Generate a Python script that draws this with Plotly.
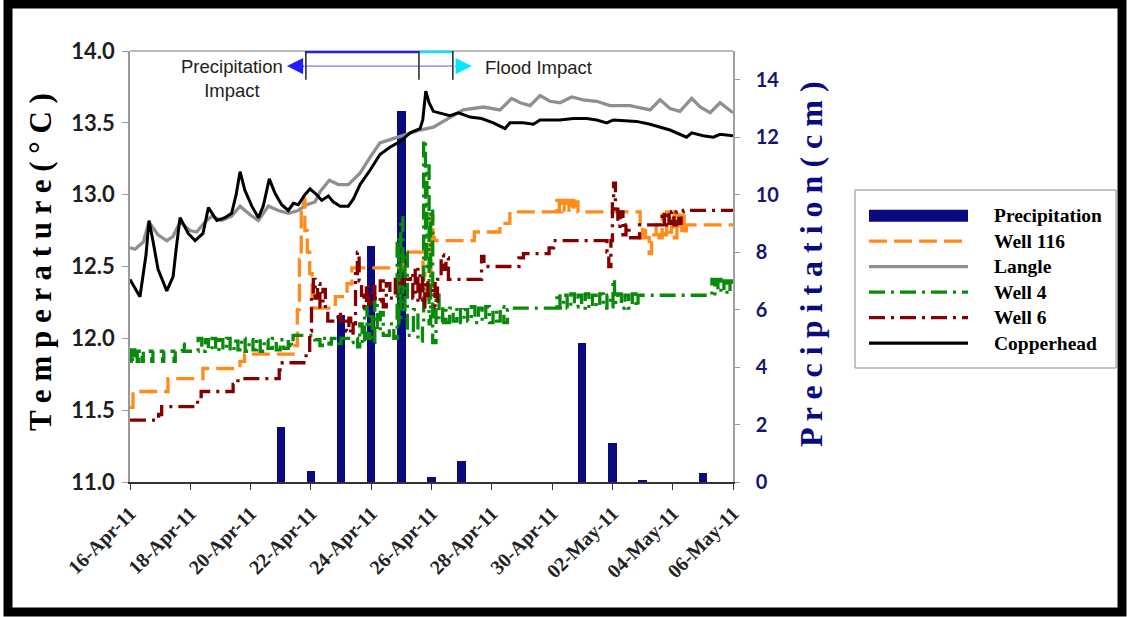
import pandas as pd
import plotly.graph_objects as go

# ---------------------------------------------------------------- data
START = pd.Timestamp("2011-04-16")

precip_date = ["2011-04-21", "2011-04-22", "2011-04-23", "2011-04-24", "2011-04-25",
               "2011-04-26", "2011-04-27", "2011-05-01", "2011-05-02", "2011-05-03",
               "2011-05-05"]
precip_cm = [1.92, 0.38, 5.82, 8.22, 12.9, 0.17, 0.74, 4.83, 1.37, 0.07, 0.33]

# (days since 16-Apr-2011, temperature degC)
copperhead = [
    (0.00, 12.41), (0.33, 12.29), (0.53, 12.58), (0.63, 12.82), (0.76, 12.68), (0.93, 12.48),
    (1.22, 12.33), (1.43, 12.43), (1.53, 12.62), (1.66, 12.84), (1.93, 12.73), (2.16, 12.68),
    (2.42, 12.73), (2.60, 12.91), (2.88, 12.82), (3.15, 12.84), (3.37, 12.87), (3.52, 13.00),
    (3.65, 13.16), (3.81, 13.03), (4.04, 12.92), (4.26, 12.84), (4.42, 12.92), (4.62, 13.11),
    (4.81, 13.01), (5.03, 12.93), (5.25, 12.89), (5.42, 12.94), (5.58, 12.93), (5.80, 13.00),
    (5.97, 13.04), (6.19, 13.00), (6.36, 12.96), (6.58, 12.99), (6.74, 12.95), (6.97, 12.92),
    (7.24, 12.92), (7.41, 12.97), (7.63, 13.07), (7.96, 13.17), (8.29, 13.28), (8.62, 13.33),
    (8.96, 13.37), (9.29, 13.43), (9.62, 13.46), (9.71, 13.52), (9.81, 13.72), (9.92, 13.64),
    (10.06, 13.58), (10.28, 13.57), (10.61, 13.55), (10.89, 13.57), (11.28, 13.54),
    (11.66, 13.53), (12.05, 13.50), (12.44, 13.46), (12.60, 13.50), (13.04, 13.50),
    (13.38, 13.49), (13.60, 13.52), (14.26, 13.52), (14.70, 13.53), (15.15, 13.53),
    (15.48, 13.52), (15.81, 13.50), (16.03, 13.52), (16.80, 13.51), (17.25, 13.49),
    (17.58, 13.47), (17.91, 13.45), (18.46, 13.40), (18.63, 13.43), (19.01, 13.41),
    (19.35, 13.40), (19.57, 13.42), (20.00, 13.41),
]

langle = [
    (0.00, 12.63), (0.17, 12.62), (0.44, 12.67), (0.63, 12.81), (0.93, 12.72), (1.22, 12.68),
    (1.43, 12.71), (1.66, 12.81), (1.99, 12.75), (2.21, 12.74), (2.49, 12.81), (2.71, 12.85),
    (3.04, 12.82), (3.37, 12.85), (3.65, 12.92), (3.98, 12.86), (4.26, 12.82), (4.59, 12.92),
    (4.92, 12.89), (5.25, 12.87), (5.58, 12.89), (5.86, 12.93), (6.14, 12.95), (6.30, 13.02),
    (6.61, 13.10), (6.91, 13.07), (7.24, 13.07), (7.63, 13.15), (7.96, 13.26), (8.29, 13.36),
    (8.73, 13.39), (9.18, 13.42), (9.62, 13.45), (10.06, 13.47), (10.39, 13.51),
    (10.72, 13.55), (11.05, 13.59), (11.72, 13.61), (12.27, 13.59), (12.66, 13.67),
    (12.94, 13.64), (13.27, 13.62), (13.60, 13.69), (13.93, 13.65), (14.26, 13.64),
    (14.65, 13.68), (15.03, 13.66), (15.48, 13.65), (15.92, 13.62), (16.58, 13.62),
    (17.25, 13.59), (17.58, 13.66), (17.91, 13.60), (18.24, 13.58), (18.63, 13.67),
    (18.91, 13.61), (19.24, 13.57), (19.57, 13.64), (20.00, 13.57),
]

well_116 = [
    (0.00, 11.52), (0.10, 11.63), (1.26, 11.72), (2.42, 11.79), (3.65, 11.84), (3.80, 11.89),
    (5.41, 11.95), (5.55, 12.20), (5.62, 12.55), (5.68, 12.90), (5.74, 12.97), (5.80, 12.75),
    (5.88, 12.60), (5.96, 12.45), (6.04, 12.30), (6.12, 12.21), (6.81, 12.29), (7.20, 12.38),
    (7.36, 12.49), (9.05, 12.60), (9.72, 12.45), (9.78, 12.25), (9.90, 12.40), (9.98, 12.85),
    (10.05, 12.70), (10.10, 12.68), (11.42, 12.74), (12.27, 12.80), (12.60, 12.88),
    (14.16, 12.96), (14.24, 12.88), (14.32, 12.96), (14.40, 12.89), (14.48, 12.96),
    (14.56, 12.88), (14.64, 12.96), (14.72, 12.89), (14.80, 12.95), (14.86, 12.88),
    (16.92, 12.70), (17.00, 12.78), (17.10, 12.70), (17.22, 12.59), (17.30, 12.72),
    (17.45, 12.79), (17.55, 12.70), (17.65, 12.86), (17.72, 12.72), (17.80, 12.88),
    (17.88, 12.74), (17.96, 12.88), (18.05, 12.70), (18.14, 12.86), (18.22, 12.74),
    (18.30, 12.88), (18.38, 12.72), (18.45, 12.79), (20.00, 12.79),
]

well_4 = [
    (0.00, 11.84), (0.04, 11.92), (0.08, 11.84), (0.12, 11.92), (0.16, 11.85), (0.20, 11.92),
    (0.24, 11.84), (0.28, 11.91), (0.40, 11.84), (0.44, 11.91), (0.72, 11.84), (0.76, 11.91),
    (1.08, 11.84), (1.12, 11.91), (1.46, 11.84), (1.50, 11.91), (1.73, 11.96), (1.80, 11.91),
    (2.26, 12.00), (2.38, 11.91), (2.50, 11.99), (2.60, 11.92), (2.72, 12.00), (2.84, 11.91),
    (2.95, 11.99), (3.08, 11.92), (3.20, 12.00), (3.32, 11.91), (3.45, 11.98), (3.58, 11.92),
    (3.70, 12.00), (3.82, 11.91), (3.95, 11.99), (4.08, 11.92), (4.20, 12.00), (4.32, 11.91),
    (4.45, 11.99), (4.58, 11.93), (4.72, 12.00), (4.85, 11.92), (4.98, 11.99), (5.10, 11.93),
    (5.25, 11.99), (5.35, 11.95), (5.41, 12.02), (6.13, 11.99), (6.30, 11.95), (6.38, 12.00),
    (6.60, 11.96), (6.68, 12.00), (6.92, 11.94), (7.00, 12.00), (7.25, 11.97), (7.40, 12.00),
    (7.55, 11.94), (7.62, 12.10), (7.70, 11.96), (7.78, 12.22), (7.86, 12.00), (7.95, 12.15),
    (8.04, 11.97), (8.12, 12.28), (8.20, 12.05), (8.30, 12.18), (8.40, 12.02), (8.60, 12.10),
    (8.75, 12.00), (8.86, 12.70), (8.92, 12.10), (8.98, 12.84), (9.05, 12.20), (9.12, 12.60),
    (9.20, 12.02), (9.40, 12.20), (9.55, 11.98), (9.70, 12.10), (9.74, 13.38), (9.80, 12.50),
    (9.85, 13.20), (9.92, 12.10), (9.97, 12.90), (10.04, 11.97), (10.15, 12.30),
    (10.25, 12.11), (10.37, 12.22), (10.48, 12.11), (10.60, 12.21), (10.72, 12.12),
    (10.84, 12.22), (10.96, 12.11), (11.08, 12.20), (11.20, 12.12), (11.32, 12.22),
    (11.44, 12.11), (11.56, 12.21), (11.68, 12.12), (11.80, 12.22), (11.92, 12.11),
    (12.04, 12.20), (12.16, 12.12), (12.28, 12.22), (12.40, 12.11), (12.52, 12.20),
    (12.62, 12.21), (14.16, 12.31), (14.26, 12.21), (14.38, 12.30), (14.50, 12.21),
    (14.62, 12.31), (14.74, 12.22), (14.86, 12.30), (14.98, 12.21), (15.10, 12.31),
    (15.22, 12.21), (15.34, 12.30), (15.46, 12.22), (15.58, 12.31), (15.70, 12.21),
    (15.82, 12.30), (15.94, 12.22), (16.02, 12.41), (16.07, 12.25), (16.18, 12.31),
    (16.30, 12.21), (16.42, 12.30), (16.54, 12.21), (16.66, 12.31), (16.78, 12.22),
    (16.85, 12.30), (19.30, 12.41), (19.40, 12.31), (19.50, 12.41), (19.60, 12.32),
    (19.70, 12.40), (19.80, 12.31), (19.90, 12.40), (20.00, 12.36),
]

well_6 = [
    (0.00, 11.43), (0.95, 11.47), (1.05, 11.525), (2.24, 11.58), (2.36, 11.63), (3.42, 11.68),
    (3.58, 11.72), (4.95, 11.78), (5.05, 11.83), (5.84, 11.90), (5.96, 12.05), (6.02, 12.30),
    (6.08, 12.41), (6.14, 12.28), (6.22, 12.38), (6.30, 12.22), (6.40, 12.34), (6.48, 12.20),
    (6.56, 12.12), (6.90, 12.18), (6.98, 12.12), (7.18, 12.05), (7.26, 12.14), (7.32, 12.02),
    (7.40, 12.10), (7.48, 12.45), (7.54, 12.60), (7.60, 12.40), (7.68, 12.30), (7.76, 12.22),
    (7.84, 12.38), (7.92, 12.24), (8.00, 12.36), (8.12, 12.26), (8.30, 12.40), (8.40, 12.22),
    (8.50, 12.38), (8.62, 12.28), (8.80, 12.41), (8.95, 12.36), (9.05, 12.41), (9.30, 12.45),
    (9.38, 12.28), (9.46, 12.50), (9.55, 12.25), (9.62, 12.45), (9.70, 12.22), (9.78, 12.40),
    (9.88, 12.30), (10.05, 12.38), (10.12, 12.22), (10.20, 12.41), (10.32, 12.58),
    (10.40, 12.48), (10.48, 12.56), (10.56, 12.41), (11.66, 12.57), (11.74, 12.50),
    (12.90, 12.56), (13.05, 12.59), (13.90, 12.63), (14.05, 12.68), (15.82, 12.60),
    (15.88, 12.50), (15.95, 12.68), (16.00, 12.95), (16.04, 13.08), (16.10, 12.90),
    (16.18, 12.78), (16.26, 12.88), (16.35, 12.72), (16.45, 12.79), (16.55, 12.70),
    (16.90, 12.79), (17.65, 12.88), (17.72, 12.79), (17.80, 12.88), (17.88, 12.80),
    (17.96, 12.88), (18.04, 12.79), (18.12, 12.88), (18.20, 12.80), (18.28, 12.88),
    (18.35, 12.89), (20.00, 12.89),
]

# period markers along the top of the plot
impact_start = "2011-04-21 20:00"
flood_peak = "2011-04-25 14:00"
flood_end = "2011-04-26 17:00"

date_ticks_every_days = 2

# ---------------------------------------------------------------- style
W, H = 1127, 617
L, R, T, B = 130, 733, 51, 482

NAVY = "#0b0b80"
ORANGE = "#ff8c1a"
GRAY = "#8f8f8f"
GREEN = "#0a8a0a"
MAROON = "#840000"
BLACK = "#000000"
SERIF = "Liberation Serif, Times New Roman, serif"
SANS = "Liberation Sans, Arial, sans-serif"
TICKFONT = "Lato, Open Sans, sans-serif"


def px(x):
    return (x - L) / (R - L)


def py(y):
    return (B - y) / (B - T)


def times(days):
    return START + pd.to_timedelta(days, unit="D")


def split(pairs):
    d, v = zip(*pairs)
    return times(list(d)), list(v)


fig = go.Figure()

# precipitation bars (right axis, drawn first so the lines sit on top)
fig.add_trace(go.Bar(
    x=pd.to_datetime(precip_date), y=precip_cm, name="Precipitation",
    marker=dict(color=NAVY, line=dict(width=0)),
    width=0.28 * 86400000, yaxis="y", showlegend=False,
))

series = [
    ("Langle", langle, dict(color=GRAY, width=3.3), "linear"),
    ("Well 116", well_116, dict(color=ORANGE, width=3.3, dash="18px,7px"), "hv"),
    ("Well 4", well_4, dict(color=GREEN, width=3.3, dash="16px,6px,3px,6px"), "hv"),
    ("Well 6", well_6, dict(color=MAROON, width=3.3, dash="16px,6px,3px,6px"), "hv"),
    ("Copperhead", copperhead, dict(color=BLACK, width=3.0), "linear"),
]
for name, pairs, line, shape in series:
    xs, ys = split(pairs)
    line = dict(line, shape=shape)
    fig.add_trace(go.Scatter(x=xs, y=ys, name=name, mode="lines", line=line,
                             yaxis="y2", showlegend=False))

shapes = []
annotations = []

# outer frame
shapes.append(dict(type="rect", xref="paper", yref="paper",
                   x0=px(8), x1=px(1122), y0=py(4), y1=py(612),
                   line=dict(color="black", width=9), fillcolor="rgba(0,0,0,0)", layer="above"))
# top border of the plot
shapes.append(dict(type="line", xref="paper", yref="paper", x0=0, x1=1, y0=1, y1=1,
                   line=dict(color="#777777", width=1.2)))

# impact period markers
shapes.append(dict(type="line", xref="x", yref="y2", x0=impact_start, x1=flood_peak,
                   y0=13.995, y1=13.995, line=dict(color="#2020ff", width=3)))
shapes.append(dict(type="line", xref="x", yref="y2", x0=flood_peak, x1=flood_end,
                   y0=13.995, y1=13.995, line=dict(color="#00e8ff", width=3)))
shapes.append(dict(type="line", xref="x", yref="y2", x0=impact_start, x1=flood_end,
                   y0=13.895, y1=13.895, line=dict(color="#5a5aff", width=1)))
for t in (impact_start, flood_peak, flood_end):
    shapes.append(dict(type="line", xref="x", yref="y2", x0=t, x1=t, y0=14.0, y1=13.80,
                       line=dict(color="#222222", width=1.5)))

annotations.append(dict(x=impact_start, y=13.895, xref="x", yref="y2", xshift=-19,
                        ax=19, ay=0, text="", showarrow=True, arrowhead=2,
                        arrowsize=2.5, arrowwidth=1.3, arrowcolor="#2020ff"))
annotations.append(dict(x=flood_end, y=13.895, xref="x", yref="y2", xshift=19,
                        ax=-19, ay=0, text="", showarrow=True, arrowhead=2,
                        arrowsize=2.5, arrowwidth=1.3, arrowcolor="#00e8ff"))
annotations.append(dict(x=px(231.5), y=py(78), xref="paper", yref="paper",
                        text="Precipitation<br>Impact", showarrow=False,
                        xanchor="center", yanchor="middle",
                        font=dict(family=SANS, size=18.5, color="#222222")))
annotations.append(dict(x=px(483), y=py(67), xref="paper", yref="paper",
                        text="Flood Impact", showarrow=False,
                        xanchor="left", yanchor="middle",
                        font=dict(family=SANS, size=18.5, color="#222222")))

# axis titles
annotations.append(dict(x=px(40), y=py(262), xref="paper", yref="paper",
                        text="T e m p e r a t u r e ( ° C )", textangle=-90,
                        showarrow=False, xanchor="center", yanchor="middle",
                        font=dict(family=SERIF, size=31, color="black", weight="bold")))
annotations.append(dict(x=px(811), y=py(264), xref="paper", yref="paper",
                        text="P r e c i p i t a t i o n ( c m )", textangle=-90,
                        showarrow=False, xanchor="center", yanchor="middle",
                        font=dict(family=SERIF, size=32, color=NAVY, weight="bold")))

# legend box
shapes.append(dict(type="rect", xref="paper", yref="paper",
                   x0=px(855), x1=px(1116), y0=py(190), y1=py(368),
                   line=dict(color="#8a8a8a", width=1), fillcolor="white"))
legend_rows = [
    ("Precipitation", "bar", NAVY, None, 3),
    ("Well 116", "line", ORANGE, "18px,7px", 3.3),
    ("Langle", "line", GRAY, None, 3.3),
    ("Well 4", "line", GREEN, "16px,6px,3px,6px", 3.3),
    ("Well 6", "line", MAROON, "16px,6px,3px,6px", 3.3),
    ("Copperhead", "line", BLACK, None, 3.3),
]
for i, (label, kind, color, dash, width) in enumerate(legend_rows):
    yc = 215.7 + i * 25.5
    if kind == "bar":
        shapes.append(dict(type="rect", xref="paper", yref="paper",
                           x0=px(869), x1=px(968), y0=py(yc - 6), y1=py(yc + 6),
                           line=dict(width=0), fillcolor=color))
    else:
        ln = dict(color=color, width=width)
        if dash:
            ln["dash"] = dash
        shapes.append(dict(type="line", xref="paper", yref="paper",
                           x0=px(869), x1=px(968), y0=py(yc), y1=py(yc), line=ln))
    annotations.append(dict(x=px(992), y=py(yc), xref="paper", yref="paper", text=label,
                            showarrow=False, xanchor="left", yanchor="middle",
                            font=dict(family=SERIF, size=19.5, color="black", weight="bold")))

fig.update_layout(
    width=W, height=H,
    margin=dict(l=L, r=W - R, t=T, b=H - B, autoexpand=False),
    paper_bgcolor="white", plot_bgcolor="white",
    showlegend=False, bargap=0,
    shapes=shapes, annotations=annotations,
    xaxis=dict(
        type="date", range=[START, times(20)],
        tick0=START, dtick=date_ticks_every_days * 86400000, tickformat="%d-%b-%y",
        tickangle=-45, ticks="outside", ticklen=6, tickcolor="#333333",
        showline=True, linecolor="#333333", linewidth=1.5, showgrid=False, zeroline=False,
        ticklabelstandoff=4,
        tickfont=dict(family=SERIF, size=20, color="#222222", weight="bold"),
    ),
    yaxis=dict(
        side="right", range=[0, 15], tickvals=list(range(0, 15, 2)),
        ticks="outside", ticklen=5, tickcolor="#999999", showline=True,
        linecolor="#a0a0a0", linewidth=1.5, showgrid=False, zeroline=False,
        ticklabelstandoff=12,
        tickfont=dict(family=TICKFONT, size=20, color="#16166e", weight="bold"),
    ),
    yaxis2=dict(
        side="left", overlaying="y", range=[11, 14], dtick=0.5, tickformat=".1f",
        ticks="outside", ticklen=6, tickcolor="#999999", showline=True,
        linecolor="#999999", linewidth=1.5, showgrid=False, zeroline=False,
        ticklabelstandoff=3,
        tickfont=dict(family=TICKFONT, size=22, color="#1e1e1e", weight="bold"),
    ),
)

fig.write_html("out.html")
